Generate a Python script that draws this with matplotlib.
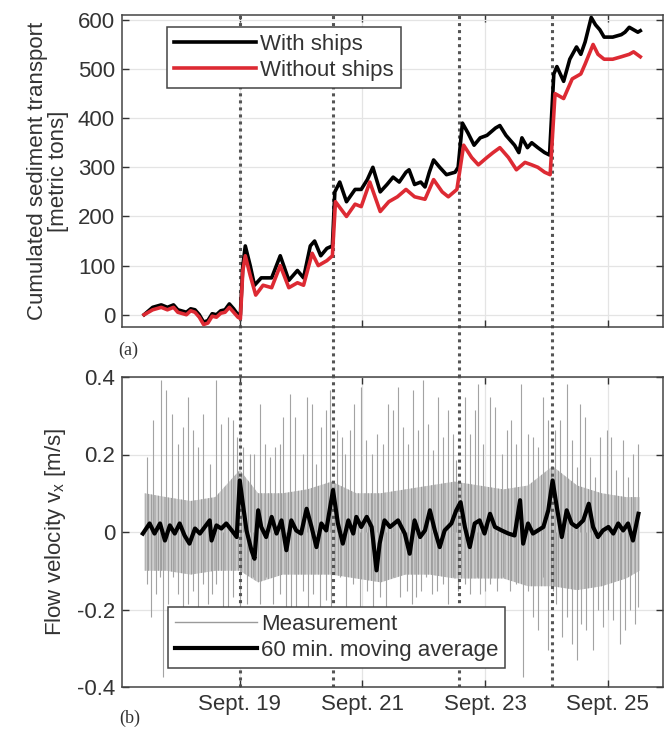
import matplotlib
matplotlib.use("Agg")
import matplotlib.pyplot as plt

plt.rcParams['font.family'] = ['Liberation Sans', 'DejaVu Sans']
plt.rcParams['axes.unicode_minus'] = False
plt.rcParams['hatch.linewidth'] = 0.6

# ---------------- data (x in days of September) ----------------
ship_days = [17.44, 17.58, 17.72, 17.82, 17.92, 17.99, 18.13, 18.20, 18.27, 18.34, 18.41, 18.48,
             18.55, 18.62, 18.69, 18.76, 18.83, 18.90, 18.97, 19.01, 19.05, 19.09, 19.17, 19.24,
             19.35, 19.52, 19.66, 19.80, 19.94, 20.04, 20.15, 20.22, 20.32, 20.42, 20.51, 20.55,
             20.63, 20.74, 20.88, 20.98, 21.08, 21.17, 21.29, 21.40, 21.50, 21.60, 21.71, 21.76,
             21.85, 21.95, 22.02, 22.09, 22.16, 22.26, 22.37, 22.51, 22.56, 22.63, 22.72, 22.82,
             22.92, 23.03, 23.17, 23.24, 23.34, 23.48, 23.55, 23.60, 23.69, 23.76, 23.86, 23.97,
             24.05, 24.12, 24.17, 24.28, 24.38, 24.49, 24.56, 24.63, 24.73, 24.80, 24.87, 24.94,
             25.08, 25.22, 25.28, 25.35, 25.42, 25.49, 25.53]
with_ships = [0, 15, 20, 15, 20, 10, 5, 12, 10, 0, -15, -12,
              2, 0, 8, 10, 22, 12, 0, 0, 100, 140, 100, 60,
              75, 75, 120, 70, 90, 75, 140, 150, 120, 135, 140, 250,
              270, 230, 255, 255, 275, 300, 250, 265, 280, 270, 290, 295,
              265, 270, 260, 290, 315, 300, 285, 290, 300, 390, 370, 345,
              360, 365, 380, 385, 365, 345, 330, 360, 340, 350, 340, 330,
              325, 490, 505, 475, 520, 545, 530, 555, 605, 590, 580, 565,
              565, 570, 575, 585, 580, 575, 578]

noship_days = [17.44, 17.58, 17.72, 17.82, 17.92, 17.99, 18.13, 18.20, 18.27, 18.34, 18.41, 18.48,
               18.55, 18.62, 18.69, 18.76, 18.83, 18.90, 18.97, 19.01, 19.05, 19.09, 19.17, 19.26,
               19.38, 19.52, 19.66, 19.80, 19.94, 20.04, 20.18, 20.28, 20.42, 20.51, 20.56, 20.74,
               20.88, 20.98, 21.12, 21.29, 21.43, 21.57, 21.71, 21.85, 22.02, 22.16, 22.30, 22.40,
               22.54, 22.65, 22.78, 22.89, 23.03, 23.13, 23.24, 23.38, 23.51, 23.65, 23.76, 23.86,
               23.97, 24.06, 24.14, 24.28, 24.42, 24.56, 24.63, 24.76, 24.84, 24.94, 25.08, 25.22,
               25.35, 25.42, 25.53]
without_ships = [0, 10, 15, 10, 15, 5, 0, 8, 5, -5, -20, -17,
                 -3, -5, 3, 5, 15, 5, -5, -8, 90, 120, 80, 40,
                 60, 55, 100, 55, 65, 60, 125, 100, 110, 120, 230, 200,
                 225, 220, 270, 210, 230, 240, 255, 240, 235, 275, 250, 240,
                 255, 345, 320, 305, 320, 330, 340, 320, 295, 310, 305, 300,
                 290, 285, 450, 440, 480, 490, 510, 550, 530, 520, 520, 525,
                 530, 535, 525]

# measurement spikes (read extremes)
spike_up_days = [17.48, 17.59, 17.72, 17.80, 17.89, 17.99, 18.08, 18.16, 18.24, 18.32, 18.40, 18.51,
                 18.62, 18.70, 18.81, 18.89, 18.95, 19.05, 19.16, 19.24, 19.33, 19.41, 19.49, 19.57,
                 19.65, 19.71, 19.82, 19.90, 20.03, 20.09, 20.17, 20.25, 20.33, 20.41, 20.47, 20.58,
                 20.66, 20.71, 20.79, 20.87, 20.98, 21.06, 21.15, 21.23, 21.34, 21.42,
                 21.50, 21.58, 21.66, 21.74, 21.83, 21.91, 21.99, 22.07, 22.15, 22.23, 22.32, 22.40,
                 22.48, 22.53, 22.67, 22.75, 22.83, 22.89, 22.97, 23.08, 23.16, 23.27, 23.35, 23.43,
                 23.51, 23.59, 23.70, 23.78, 23.86, 23.95, 24.03, 24.14, 24.22, 24.33, 24.41, 24.49,
                 24.54, 24.63, 24.71, 24.79, 24.87, 24.98, 25.06, 25.14, 25.25, 25.33, 25.41, 25.50]
spike_up_vals = [0.194, 0.288, 0.391, 0.366, 0.305, 0.228, 0.271, 0.348, 0.262, 0.219, 0.305, 0.176,
                 0.391, 0.280, 0.297, 0.288, 0.245, 0.219, 0.202, 0.202, 0.331, 0.228, 0.194, 0.219,
                 0.228, 0.297, 0.357, 0.297, 0.202, 0.348, 0.331, 0.176, 0.271, 0.314, 0.366, 0.262,
                 0.245, 0.202, 0.262, 0.331, 0.374, 0.237, 0.202, 0.254, 0.228, 0.331,
                 0.314, 0.374, 0.271, 0.228, 0.366, 0.262, 0.391, 0.280, 0.211, 0.348, 0.245, 0.314,
                 0.254, 0.185, 0.348, 0.254, 0.314, 0.383, 0.228, 0.348, 0.323, 0.202, 0.262, 0.288,
                 0.228, 0.383, 0.254, 0.245, 0.219, 0.348, 0.288, 0.262, 0.288, 0.383, 0.237, 0.168,
                 0.331, 0.297, 0.194, 0.142, 0.245, 0.262, 0.245, 0.159, 0.237, 0.142, 0.202, 0.228]
spike_dn_days = [17.48, 17.56, 17.64, 17.70, 17.75, 17.83, 17.91, 17.99, 18.08, 18.16, 18.24, 18.32,
                 18.40, 18.48, 18.54, 18.62, 18.73, 18.81, 18.89, 19.00, 19.11, 19.22, 19.33, 19.43,
                 19.54, 19.65, 19.76, 19.84, 19.92, 20.03, 20.11, 20.20, 20.30, 20.41, 20.49, 20.63,
                 20.74, 20.85, 20.96, 21.07, 21.17, 21.28, 21.39,
                 21.50, 21.61, 21.72, 21.80, 21.88, 21.96, 22.04, 22.13, 22.21, 22.32, 22.40, 22.48,
                 22.56, 22.67, 22.75, 22.86, 22.91, 22.99, 23.08, 23.19, 23.29, 23.40, 23.51, 23.62,
                 23.70, 23.78, 23.86, 23.95, 24.03, 24.11, 24.16, 24.25, 24.33, 24.41, 24.49, 24.57,
                 24.65, 24.76, 24.84, 24.92, 25.01, 25.09, 25.20, 25.28, 25.36, 25.44, 25.50]
spike_dn_vals = [-0.133, -0.219, -0.159, -0.116, -0.374, -0.185, -0.116, -0.159, -0.245, -0.185, -0.151, -0.202,
                 -0.133, -0.185, -0.159, -0.133, -0.194, -0.202, -0.168, -0.202, -0.185, -0.116, -0.185, -0.116,
                 -0.185, -0.159, -0.194, -0.202, -0.194, -0.151, -0.194, -0.159, -0.202, -0.176, -0.194, -0.116,
                 -0.202, -0.133, -0.202, -0.151, -0.194, -0.168, -0.202,
                 -0.116, -0.168, -0.151, -0.185, -0.168, -0.151, -0.116, -0.159, -0.151, -0.133, -0.185, -0.116,
                 -0.151, -0.133, -0.159, -0.116, -0.159, -0.151, -0.133, -0.151, -0.116, -0.151, -0.133, -0.374,
                 -0.151, -0.219, -0.254, -0.116, -0.305, -0.151, -0.185, -0.271, -0.219, -0.288, -0.331, -0.237,
                 -0.254, -0.305, -0.202, -0.245, -0.202, -0.228, -0.288, -0.254, -0.202, -0.237, -0.194]
# dense core band of the measurement
core_days = [17.45, 17.8, 18.2, 18.6, 19.0, 19.3, 19.7, 20.1, 20.5, 20.9, 21.3, 21.7,
             22.1, 22.5, 22.9, 23.3, 23.7, 24.1, 24.5, 24.9, 25.3, 25.52]
core_upper = [0.10, 0.09, 0.08, 0.09, 0.16, 0.10, 0.10, 0.11, 0.13, 0.10, 0.10, 0.11,
              0.12, 0.13, 0.12, 0.11, 0.12, 0.17, 0.12, 0.10, 0.09, 0.09]
core_lower = [-0.10, -0.10, -0.11, -0.10, -0.10, -0.13, -0.11, -0.11, -0.11, -0.12, -0.13, -0.11,
              -0.11, -0.12, -0.12, -0.12, -0.14, -0.14, -0.15, -0.14, -0.12, -0.10]

# 60 min moving average
avg_days = [17.42, 17.53, 17.61, 17.70, 17.78, 17.86, 17.94, 18.02, 18.10, 18.18, 18.27, 18.35,
            18.43, 18.51, 18.54, 18.62, 18.70, 18.78, 18.89, 18.95, 19.00, 19.05, 19.11, 19.19,
            19.24, 19.30, 19.35, 19.43, 19.52, 19.60, 19.68, 19.76, 19.84, 19.92, 20.00, 20.09,
            20.17, 20.25, 20.33, 20.41, 20.52, 20.60, 20.68, 20.77, 20.85, 20.90, 20.98, 21.07,
            21.15, 21.23, 21.28, 21.36, 21.45, 21.58, 21.69, 21.77, 21.85, 21.94, 22.02, 22.10,
            22.18, 22.26, 22.34, 22.45, 22.53, 22.60, 22.67, 22.75, 22.83, 22.91, 22.99, 23.08,
            23.16, 23.27, 23.38, 23.48, 23.57, 23.62, 23.70, 23.78, 23.86, 23.95, 24.03, 24.10,
            24.16, 24.25, 24.33, 24.41, 24.49, 24.60, 24.69, 24.76, 24.84, 24.92, 25.01, 25.09,
            25.17, 25.25, 25.33, 25.41, 25.50]
avg_vals = [-0.004, 0.022, -0.004, 0.022, -0.022, 0.017, -0.004, 0.022, -0.009, -0.030, 0.009, -0.004,
            0.013, 0.030, -0.022, 0.017, 0.009, 0.022, 0.0, -0.013, 0.133, 0.073, 0.004, -0.047,
            -0.069, 0.056, 0.013, -0.013, 0.039, -0.004, 0.030, -0.047, 0.030, 0.004, -0.004, 0.060,
            0.013, -0.039, 0.022, 0.004, 0.108, 0.022, -0.030, 0.030, -0.004, 0.039, 0.013, 0.039,
            0.013, -0.099, -0.030, 0.030, 0.013, 0.030, -0.004, -0.056, 0.030, -0.013, 0.004, 0.056,
            0.004, -0.039, 0.004, 0.022, 0.056, 0.077, 0.013, -0.039, 0.022, 0.030, -0.004, 0.047,
            0.013, 0.004, -0.004, -0.009, 0.082, -0.030, 0.022, -0.004, 0.004, 0.013, 0.056, 0.133,
            0.073, -0.013, 0.056, 0.022, 0.013, 0.030, 0.073, 0.013, -0.013, 0.004, 0.013, -0.004,
            0.022, 0.004, 0.022, -0.022, 0.047]

ship_event_days = [19.0, 20.52, 22.57, 24.09]
xtick_days = [19, 21, 23, 25]
xtick_labels = ['Sept. 19', 'Sept. 21', 'Sept. 23', 'Sept. 25']
top_yticks = [0, 100, 200, 300, 400, 500, 600]
bot_yticks = [-0.4, -0.2, 0, 0.2, 0.4]
bot_yticklabels = ['-0.4', '-0.2', '0', '0.2', '0.4']

# ---------------- figure ----------------
W, H = 666, 735
fig = plt.figure(figsize=(W / 100, H / 100), dpi=100)
txt = '#333333'
fs = 16

def px_axes(l, t, r, b):
    return fig.add_axes([l / W, 1 - b / H, (r - l) / W, (b - t) / H])

ax1 = px_axes(122, 15, 663, 327)
ax2 = px_axes(122, 377, 663, 687)

for ax in (ax1, ax2):
    ax.set_xlim(17.08, 25.9)
    ax.set_xticks(xtick_days)
    ax.grid(True, color='#e4e4e4', lw=0.9)
    ax.set_axisbelow(True)
    ax.tick_params(direction='in', top=True, right=True, length=5, width=1,
                   colors=txt, labelsize=fs, pad=5)
    for s in ax.spines.values():
        s.set_color('#444444')
        s.set_linewidth(1.1)

leg_kw = dict(borderaxespad=0, fontsize=fs, frameon=True, fancybox=False, framealpha=1,
              edgecolor='#444444', handlelength=3.7, handletextpad=0.2,
              borderpad=0.3, labelspacing=0.25)

# top panel
ax1.set_ylim(-25, 610)
ax1.set_yticks(top_yticks)
ax1.set_xticklabels([])
ax1.plot(ship_days, with_ships, color='black', lw=2.6, label='With ships', zorder=3)
ax1.plot(noship_days, without_ships, color='#dd2a33', lw=2.6, label='Without ships', zorder=3)
gap = (377 - 327) / (327 - 15)
for d in ship_event_days:
    ax1.axvline(d, ymin=-gap, ymax=1, color='#555555', ls=(0, (1, 1.3)), lw=2.2,
                clip_on=False, zorder=2)
leg1 = ax1.legend(loc='upper left', bbox_to_anchor=((167 - 122) / 541, (327 - 27) / 312), **leg_kw)
leg1.get_frame().set_linewidth(1.1)
for t in leg1.get_texts():
    t.set_color(txt)
ax1.set_ylabel('Cumulated sediment transport\n[metric tons]', fontsize=fs, color=txt,
               labelpad=6, linespacing=1.0)

# bottom panel
ax2.set_ylim(-0.4, 0.4)
ax2.set_yticks(bot_yticks)
ax2.set_yticklabels(bot_yticklabels)
ax2.set_xticklabels(xtick_labels)
meas_col = '#a3a3a3'
ax2.fill_between(core_days, core_lower, core_upper, facecolor='#cdcdcd', edgecolor='#8f8f8f',
                 hatch='|||||', lw=0, zorder=2)
ax2.vlines(spike_up_days, 0, spike_up_vals, color=meas_col, lw=0.8, zorder=2)
ax2.vlines(spike_dn_days, spike_dn_vals, 0, color=meas_col, lw=0.8, zorder=2)
ax2.plot([], [], color='#9a9a9a', lw=1.0, label='Measurement')
ax2.plot(avg_days, avg_vals, color='black', lw=3.0, zorder=3, label='60 min. moving average')
for d in ship_event_days:
    ax2.axvline(d, color='#555555', ls=(0, (1, 1.3)), lw=2.2, zorder=2.5)
leg2 = ax2.legend(loc='upper left', bbox_to_anchor=((168 - 122) / 541, (687 - 607) / 310), **leg_kw)
leg2.get_frame().set_linewidth(1.1)
for t in leg2.get_texts():
    t.set_color(txt)
ax2.set_ylabel(r'Flow velocity $\mathregular{v_x}$ [m/s]', fontsize=fs, color=txt, labelpad=6)

fig.text(128 / W, 1 - 350 / H, '(a)', family=['Liberation Serif', 'DejaVu Serif'],
         fontsize=13, color=txt, ha='center', va='center')
fig.text(130 / W, 1 - 718 / H, '(b)', family=['Liberation Serif', 'DejaVu Serif'],
         fontsize=13, color=txt, ha='center', va='center')

fig.savefig('out.png', dpi=100)
